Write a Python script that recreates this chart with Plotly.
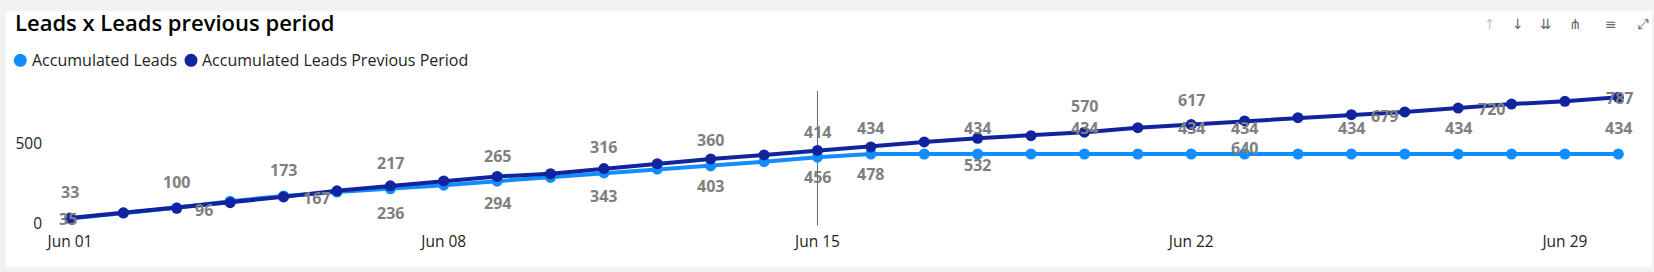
import plotly.graph_objects as go
import pandas as pd

# ---------------- data ----------------
dates = pd.date_range("2024-06-01", periods=30, freq="D")
accumulated_leads = [33, 66, 100, 140, 173, 197, 217, 240, 265, 288, 316, 340, 360, 386, 414,
                     434, 434, 434, 434, 434, 434, 434, 434, 434, 434, 434, 434, 434, 434, 434]
accumulated_prev = [35, 68, 96, 131, 167, 205, 236, 266, 294, 311, 343, 374, 403, 428, 456,
                    478, 509, 532, 548, 570, 598, 617, 640, 660, 679, 696, 720, 745, 762, 787]
labelled_days = [1, 3, 5, 7, 9, 11, 13, 15, 16, 18, 20, 22, 23, 25, 27, 30]
x_tick_dates = [dates[0], dates[7], dates[14], dates[21], dates[28]]
x_tick_labels = ["Jun 01", "Jun 08", "Jun 15", "Jun 22", "Jun 29"]
y_tick_values = [0, 500]
y_tick_labels = ["0", "500"]
series_names = ["Accumulated Leads", "Accumulated Leads Previous Period"]
title_text = "Leads x Leads previous period"
hover_day = 15

# ---------------- style / geometry ----------------
W, H = 1654, 272
L, R, T, B = 50, 14, 70, 46
PW, PH = W - L - R, H - T - B
PLOT_BOTTOM = H - B
PX_PER_DAY = 53.39
X0_PX = 70
Y0_PX = 223.7
PX_PER_UNIT = 0.1606

LIGHT = "#118DFF"
DARK = "#12239E"
LABEL_GRAY = "#7F7F7F"
TEXT = "#252423"
FONT = "Open Sans"


def px_x(p):
    return (p - L) / PW


def px_y(p):
    return (PLOT_BOTTOM - p) / PH


r0 = dates[0] - pd.Timedelta(days=(X0_PX - L) / PX_PER_DAY)
r1 = r0 + pd.Timedelta(days=PW / PX_PER_DAY)
y_lo = (Y0_PX - PLOT_BOTTOM) / PX_PER_UNIT
y_hi = (Y0_PX - T) / PX_PER_UNIT

fig = go.Figure()
fig.add_trace(go.Scatter(x=dates, y=accumulated_leads, mode="lines+markers", name=series_names[0],
                         line=dict(color=LIGHT, width=4), marker=dict(color=LIGHT, size=11),
                         showlegend=False))
fig.add_trace(go.Scatter(x=dates, y=accumulated_prev, mode="lines+markers", name=series_names[1],
                         line=dict(color=DARK, width=4), marker=dict(color=DARK, size=11),
                         showlegend=False))

annotations = []
label_font = dict(family=FONT, size=16, color=LABEL_GRAY, weight="bold")

# label placement (pixel shifts) - style only
light_shift = {1: (0, 26.7)}
dark_shift = {1: (-1.7, -1), 3: (27.6, -1.7), 5: (33, -1), 20: (0, 26), 22: (0, 24.5),
              25: (33, -1), 27: (33, -1.3), 30: (1, -1)}

for d in labelled_days:
    i = d - 1
    xs, ys = light_shift.get(d, (0, 25.6))
    annotations.append(dict(x=dates[i], y=accumulated_leads[i], text=str(accumulated_leads[i]),
                            showarrow=False, xshift=xs, yshift=ys, font=label_font))
for d in labelled_days:
    i = d - 1
    xs, ys = dark_shift.get(d, (0, -27))
    annotations.append(dict(x=dates[i], y=accumulated_prev[i], text=str(accumulated_prev[i]),
                            showarrow=False, xshift=xs, yshift=ys, font=label_font))

# title
annotations.append(dict(xref="paper", yref="paper", x=px_x(12.5), y=px_y(21.5), xanchor="left",
                        yanchor="middle", text=title_text, showarrow=False,
                        font=dict(family=FONT, size=22, color="#000000", weight=600)))
# legend texts
annotations.append(dict(xref="paper", yref="paper", x=px_x(30), y=px_y(60.3), xanchor="left",
                        yanchor="middle", text=series_names[0], showarrow=False,
                        font=dict(family=FONT, size=16, color=TEXT)))
annotations.append(dict(xref="paper", yref="paper", x=px_x(199.5), y=px_y(60.3), xanchor="left",
                        yanchor="middle", text=series_names[1], showarrow=False,
                        font=dict(family=FONT, size=16, color=TEXT)))
# header icons
icons = [("↑", 1490, "#C8C8C8"), ("↓", 1518, "#666666"), ("⇊", 1546, "#666666"),
         ("⋔", 1575, "#666666"), ("≡", 1611, "#666666"), ("⤢", 1643, "#666666")]
for ch, xp, col in icons:
    annotations.append(dict(xref="paper", yref="paper", x=px_x(xp), y=px_y(24), xanchor="center",
                            yanchor="middle", text=ch, showarrow=False,
                            font=dict(family="DejaVu Sans", size=14, color=col)))

shapes = [
    # white card
    dict(type="rect", xref="paper", yref="paper", x0=px_x(6), x1=px_x(1652), y0=px_y(266.7), y1=px_y(11),
         fillcolor="white", line=dict(width=0), layer="below"),
    # hover line
    dict(type="line", xref="x", yref="paper", x0=dates[hover_day - 1], x1=dates[hover_day - 1],
         y0=px_y(225.7), y1=px_y(91), line=dict(color="#666666", width=1), layer="below"),
]
for col, cx in [(LIGHT, 20.3), (DARK, 191)]:
    shapes.append(dict(type="circle", xref="paper", yref="paper", xsizemode="pixel", ysizemode="pixel",
                       xanchor=px_x(cx), yanchor=px_y(60.3), x0=-6.5, x1=6.5, y0=-6.5, y1=6.5,
                       fillcolor=col, line=dict(width=0)))

fig.update_layout(
    width=W, height=H, autosize=False,
    margin=dict(l=L, r=R, t=T, b=B, pad=0),
    paper_bgcolor="#F2F2F2", plot_bgcolor="white",
    showlegend=False,
    annotations=annotations, shapes=shapes,
    xaxis=dict(type="date", range=[r0, r1], tickvals=x_tick_dates, ticktext=x_tick_labels,
               showgrid=False, zeroline=False, showline=False, ticks="",
               tickfont=dict(family=FONT, size=15.5, color=TEXT), ticklabelstandoff=4),
    yaxis=dict(range=[y_lo, y_hi], tickvals=y_tick_values, ticktext=y_tick_labels,
               showgrid=False, zeroline=False, showline=False, ticks="",
               tickfont=dict(family=FONT, size=15.5, color=TEXT), ticklabelstandoff=7),
)

fig.write_html("out.html")
